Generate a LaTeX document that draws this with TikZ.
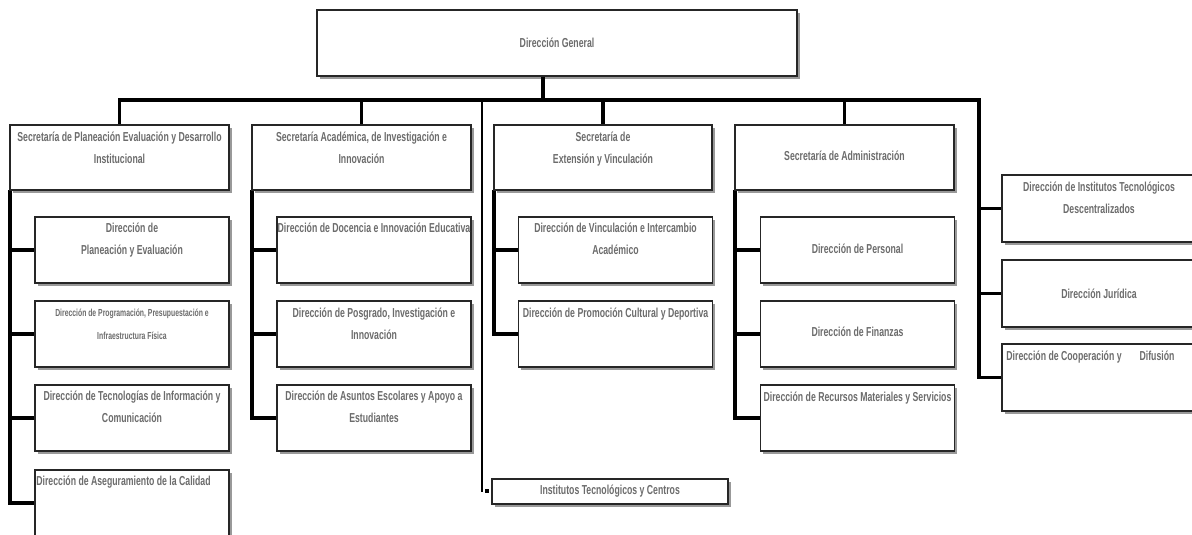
\documentclass[tikz,border=0pt]{standalone}
\usepackage{fontspec}
\setmainfont{Liberation Sans}[FakeStretch=0.67]
\usetikzlibrary{shadows}
\definecolor{tgray}{RGB}{108,108,108}
\begin{document}
\begin{tikzpicture}[x=1pt,y=-1pt,
  box/.style={draw=black!85, line width=1.6pt, fill=white, inner sep=0,
    drop shadow={shadow xshift=2.5pt, shadow yshift=-3pt, fill=black, opacity=0.4}},
  conn/.style={line width=3.2pt, black},
  txt/.style={text=tgray, font=\fontsize{13}{22}\selectfont\bfseries, align=center, inner sep=0},
  small/.style={txt, font=\fontsize{10.2}{23}\selectfont\bfseries}]
\clip (0,0) rectangle (1192,535);
\fill[white] (0,0) rectangle (1192,535);

% boxes geometry
\node[box, minimum width=480pt, minimum height=66pt] (dg) at (557,43) {};
\coordinate (bus) at (543,100);
\coordinate (rt) at (979,100);
\coordinate (itx) at (482,100);

% connectors
\draw[conn] ([xshift=-14pt]dg.south) -- ([xshift=-14pt]dg.south |- bus);
\draw[conn] (119.5,125) coordinate (s1n) -- (s1n |- bus) -- (rt) -- (rt |- 0,377.5) coordinate (r3c) -- (1002,377.5) coordinate (r3w);
\draw[conn] (361.5,125) coordinate (s2n) -- (s2n |- bus);
\draw[conn] (603,125) coordinate (s3n) -- (s3n |- bus);
\draw[conn] (844.5,125) coordinate (s4n) -- (s4n |- bus);
\draw[conn] (rt |- 0,208.5) -- (1002,208.5) coordinate (r1w);
\draw[conn] (rt |- 0,293.5) -- (1002,293.5) coordinate (r2w);
\draw[conn, line width=2.6pt] (itx) -- (itx |- 0,492) coordinate (itb);
\node[fill=black, minimum size=4pt, inner sep=0] (sq) at (487,491) {};

% column 1
\draw[conn] (10,190) coordinate (c1t) -- (10,503) -- (35,503);
\draw[conn] (c1t |- 0,250) -- (35,250);
\draw[conn] (c1t |- 0,334) -- (35,334);
\draw[conn] (c1t |- 0,418) -- (35,418);
% column 2
\draw[conn] (252,190) coordinate (c2t) -- (252,418) -- (277,418);
\draw[conn] (c2t |- 0,250) -- (277,250);
\draw[conn] (c2t |- 0,334) -- (277,334);
% column 3
\draw[conn] (494,190) coordinate (c3t) -- (494,334) -- (518,334);
\draw[conn] (c3t |- 0,250) -- (518,250);
% column 4
\draw[conn] (735,190) coordinate (c4t) -- (735,418) -- (760,418);
\draw[conn] (c4t |- 0,250) -- (760,250);
\draw[conn] (c4t |- 0,334) -- (760,334);

% secretarias
\node[box, minimum width=219pt, minimum height=65pt] (s1) at (119.5,157.5) {};
\node[box, minimum width=219pt, minimum height=65pt] (s2) at (361.5,157.5) {};
\node[box, minimum width=218pt, minimum height=65pt] (s3) at (603,157.5) {};
\node[box, minimum width=219pt, minimum height=65pt] (s4) at (844.5,157.5) {};

% children
\foreach \n/\x/\y in {c11/132/250, c12/132/334, c13/132/418, c14/132/503,
                      c21/374/250, c22/374/334, c23/374/418,
                      c31/615.5/250, c32/615.5/334,
                      c41/857.5/250, c42/857.5/334, c43/857.5/418}
  \node[box, minimum width=194pt, minimum height=66pt] (\n) at (\x,\y) {};
\foreach \n/\y in {r1/208.5, r2/293.5, r3/377.5}
  \node[box, minimum width=196pt, minimum height=67pt] (\n) at (1100,\y) {};
\node[box, minimum width=236pt, minimum height=25pt] (it) at (610,491.5) {};

% texts
\node[txt] (tdg) at (dg.center) {Dirección General};
\node[txt, anchor=north] (ts1) at ([yshift=-8pt]s1.north) {Secretaría de Planeación Evaluación y Desarrollo\\Institucional};
\node[txt, anchor=north] (ts2) at ([yshift=-8pt]s2.north) {Secretaría Académica, de Investigación e\\Innovación};
\node[txt, anchor=north] (ts3) at ([yshift=-8pt]s3.north) {Secretaría de\\Extensión y Vinculación};
\node[txt] (ts4) at ([yshift=2pt]s4.center) {Secretaría de Administración};

\node[txt, anchor=north] (tc11) at ([yshift=-7pt]c11.north) {Dirección de\\Planeación y Evaluación};
\node[small, anchor=north] (tc12) at ([yshift=-8.5pt]c12.north) {Dirección de Programación, Presupuestación e\\Infraestructura Física};
\node[txt, anchor=north] (tc13) at ([yshift=-6.5pt]c13.north) {Dirección de Tecnologías de Información y\\Comunicación};
\node[txt, anchor=north west] (tc14) at ([xshift=2pt,yshift=-7pt]c14.north west) {Dirección de Aseguramiento de la Calidad};

\node[txt, anchor=north] (tc21) at ([yshift=-7pt]c21.north) {Dirección de Docencia e Innovación Educativa};
\node[txt, anchor=north] (tc22) at ([yshift=-7.5pt]c22.north) {Dirección de Posgrado, Investigación e\\Innovación};
\node[txt, anchor=north] (tc23) at ([yshift=-6.5pt]c23.north) {Dirección de Asuntos Escolares y Apoyo a\\Estudiantes};

\node[txt, anchor=north] (tc31) at ([yshift=-7pt]c31.north) {Dirección de Vinculación e Intercambio\\Académico};
\node[txt, anchor=north] (tc32) at ([yshift=-7.5pt]c32.north) {Dirección de Promoción Cultural y Deportiva};

\node[txt] (tc41) at ([yshift=1pt]c41.center) {Dirección de Personal};
\node[txt] (tc42) at ([yshift=2pt]c42.center) {Dirección de Finanzas};
\node[txt, anchor=north] (tc43) at ([yshift=-7.5pt]c43.north) {Dirección de Recursos Materiales y Servicios};

\node[txt, anchor=north] (tr1) at ([yshift=-7.5pt,xshift=-1pt]r1.north) {Dirección de Institutos Tecnológicos\\Descentralizados};
\node[txt] (tr2) at ([xshift=-1pt]r2.center) {Dirección Jurídica};
\node[txt, anchor=north west] (tr3) at ([xshift=5pt,yshift=-7.5pt]r3.north west) {Dirección de Cooperación y\hspace{18pt}Difusión};
\node[txt] (tit) at (it.center) {Institutos Tecnológicos y Centros};
\end{tikzpicture}
\end{document}
